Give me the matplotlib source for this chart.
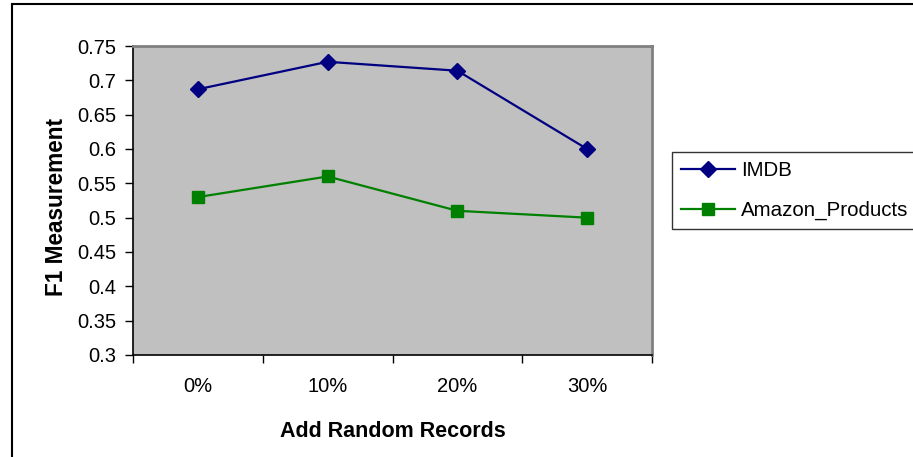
import matplotlib.pyplot as plt
import matplotlib.patches as patches
from matplotlib.ticker import FixedLocator, FuncFormatter

plt.rcParams['font.family'] = ['Liberation Sans', 'DejaVu Sans']

# F1 scores per amount of random noise records
categories = ["0%", "10%", "20%", "30%"]
imdb = [0.687, 0.727, 0.714, 0.600]
amazon_products = [0.530, 0.560, 0.510, 0.500]
y_ticks = [0.3, 0.35, 0.4, 0.45, 0.5, 0.55, 0.6, 0.65, 0.7, 0.75]

fig = plt.figure(figsize=(9.13, 4.57), dpi=100)
ax = fig.add_axes([133 / 913, 1 - 355 / 457, 519 / 913, 309 / 457])
ax.set_facecolor("#c0c0c0")

x = list(range(len(categories)))
ax.plot(x, imdb, color="#000080", lw=1.6, marker="D", ms=8.5,
        label="IMDB")
ax.plot(x, amazon_products, color="#008000", lw=1.6, marker="s", ms=8,
        label="Amazon_Products")

ax.set_xlim(-0.5, len(categories) - 0.5)
ax.set_ylim(y_ticks[0], y_ticks[-1])

# category boundaries get the tick marks, centers get the labels
ax.xaxis.set_major_locator(FixedLocator([i - 0.5 for i in range(len(categories) + 1)]))
ax.xaxis.set_minor_locator(FixedLocator(x))
ax.xaxis.set_major_formatter(FuncFormatter(lambda v, p: ""))
ax.xaxis.set_minor_formatter(FuncFormatter(lambda v, p: categories[int(round(v))]))
ax.tick_params(axis="x", which="major", direction="out", length=6, width=1)
ax.tick_params(axis="x", which="minor", length=0, pad=16, labelsize=14.5)

ax.set_yticks(y_ticks)
ax.yaxis.set_major_formatter(FuncFormatter(lambda v, p: "%g" % round(v, 2)))
ax.tick_params(axis="y", direction="out", length=6, width=1, pad=6, labelsize=14.5)

for side in ["left", "bottom"]:
    ax.spines[side].set_color("black")
    ax.spines[side].set_linewidth(1.2)
for side in ["top", "right"]:
    ax.spines[side].set_color("#808080")
    ax.spines[side].set_linewidth(2)

ax.set_xlabel("Add Random Records", fontsize=15.5, fontweight="bold")
ax.set_ylabel("F1 Measurement", fontsize=16.3, fontweight="bold")
ax.xaxis.set_label_coords(0.5, -0.215)
ax.yaxis.set_label_coords(-0.125, 0.48)

leg = fig.legend(loc="upper left", bbox_to_anchor=(672 / 913, 1 - 152 / 457),
                 fontsize=14.8, frameon=True, fancybox=False, borderaxespad=0,
                 handlelength=2.6, handletextpad=0.3, borderpad=0.45,
                 labelspacing=1.0)
leg.get_frame().set_edgecolor("black")
leg.get_frame().set_linewidth(1)

# outer chart frame, running off the right and bottom edges
fig.add_artist(patches.Rectangle((12 / 913, -0.5), 2, 0.5 + 1 - 4 / 457,
                                 transform=fig.transFigure, fill=False,
                                 edgecolor="black", linewidth=1.5))

fig.savefig("out.png", dpi=100)
